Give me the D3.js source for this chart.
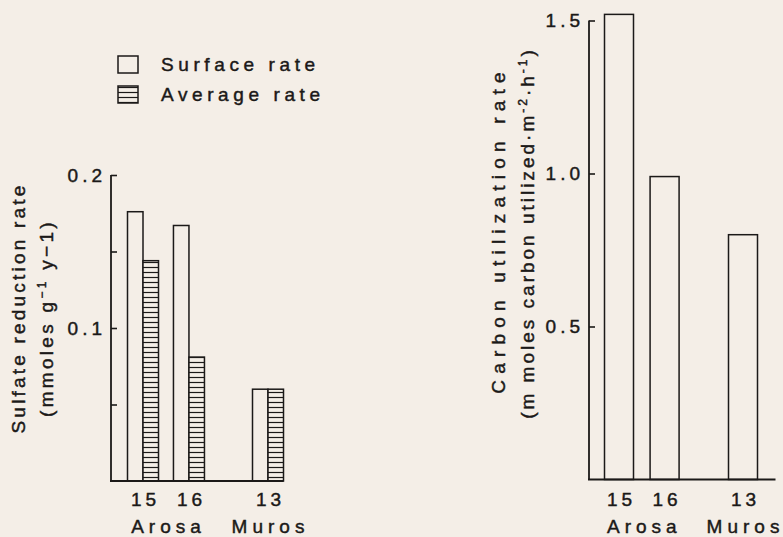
<!DOCTYPE html>
<html>
<head>
<meta charset="utf-8">
<script src="https://cdn.jsdelivr.net/npm/d3@7/dist/d3.min.js"></script>
<style>
  html, body { margin: 0; padding: 0; background: #f4eee7; }
  svg { display: block; }
  text { font-family: "Liberation Sans", Arial, Helvetica, sans-serif; fill: #1b1918; stroke: #1b1918; stroke-width: 0.45px; }
</style>
</head>
<body>
<svg id="chart" width="783" height="537"></svg>
<script>
// Sampling stations and their locations
const stations = ["15", "16", "13"];
const locations = ["Arosa", "Arosa", "Muros"];

// Sulfate reduction rate (mmoles g-1 y-1)
const surfaceRate = [0.176, 0.167, 0.060];
const averageRate = [0.144, 0.081, 0.060];

// Carbon utilization rate (m moles carbon utilized m-2 h-1)
const carbonRate = [1.52, 0.99, 0.80];

// Axis ticks and labels
const sulfateTicks = [0.05, 0.1, 0.15, 0.2];
const sulfateLabels = ["", "0.1", "", "0.2"];
const carbonTicks = [0.5, 1.0, 1.5];
const carbonLabels = ["0.5", "1.0", "1.5"];

const legendItems = ["Surface rate", "Average rate"];

const ink = "#1b1918";
const paper = "#f4eee7";
const FS = 19;
const svg = d3.select("#chart");

// horizontal hatching for the average-rate bars
const defs = svg.append("defs");
const pat = defs.append("pattern")
  .attr("id", "hatch").attr("patternUnits", "userSpaceOnUse")
  .attr("width", 8).attr("height", 5);
pat.append("rect").attr("width", 8).attr("height", 5).attr("fill", paper);
pat.append("line").attr("x1", 0).attr("x2", 8).attr("y1", 2.5).attr("y2", 2.5)
  .attr("stroke", ink).attr("stroke-width", 1.2);

// slot positions: stations sit one unit apart, with extra room between locations
const locGap = 0.72;
const slots = [];
stations.forEach((s, i) => {
  let shift = 0;
  for (let j = 1; j <= i; j++) if (locations[j] !== locations[j - 1]) shift += locGap;
  slots.push(i + shift);
});
const slotMax = slots[slots.length - 1];

function drawPanel(cfg) {
  const g = svg.append("g");
  const x = d3.scaleLinear().domain([0, slotMax]).range(cfg.xRange);
  const y = d3.scaleLinear().domain(cfg.yDomain).range(cfg.yRange);

  // y axis: ticks point into the plot
  const yAxis = d3.axisLeft(y)
    .tickValues(cfg.ticks)
    .tickFormat((d, i) => cfg.labels[i])
    .tickSizeInner(-6).tickSizeOuter(0).tickPadding(9);
  const ya = g.append("g").attr("transform", `translate(${cfg.axisX},0)`).call(yAxis);
  ya.select(".domain").attr("stroke", ink).attr("stroke-width", 1.8)
    .attr("d", `M0,${y(0)}V${y(cfg.yDomain[1])}`);
  ya.selectAll(".tick line").attr("stroke", ink).attr("stroke-width", 1.6);
  ya.selectAll(".tick text")
    .attr("font-size", FS).attr("letter-spacing", 4).attr("dx", 4)
    .attr("font-family", null).attr("fill", null);

  // bars
  const bw = cfg.barWidth;
  cfg.series.forEach(ser => {
    g.selectAll(null).data(ser.values).join("rect")
      .attr("x", (d, i) => x(slots[i]) + ser.offset * bw)
      .attr("y", d => y(d))
      .attr("width", bw)
      .attr("height", d => y(0) - y(d))
      .attr("fill", ser.hatched ? "url(#hatch)" : paper)
      .attr("stroke", ink).attr("stroke-width", 1.5);
  });

  // baseline from the y axis to just past the last bar
  const lastRight = x(slotMax) + cfg.barRightEdge * bw + cfg.baselineExtra;
  g.append("line")
    .attr("x1", cfg.axisX - 1).attr("x2", lastRight)
    .attr("y1", y(0)).attr("y2", y(0))
    .attr("stroke", ink).attr("stroke-width", 1.8);

  // station numbers via a bottom axis without ticks
  const xAxis = d3.axisBottom(x).tickValues(slots)
    .tickFormat((d, i) => stations[i]).tickSize(0).tickPadding(0);
  const xa = g.append("g").attr("transform", `translate(0,${cfg.numY})`).call(xAxis);
  xa.select(".domain").remove();
  xa.selectAll(".tick text")
    .attr("font-size", FS).attr("letter-spacing", 4).attr("dx", 2).attr("dy", 0)
    .attr("font-family", null).attr("fill", null);

  // location names centred under their stations
  const locs = d3.groups(stations.map((s, i) => ({ loc: locations[i], slot: slots[i] })), d => d.loc);
  g.selectAll(null).data(locs).join("text")
    .attr("x", d => x(d3.mean(d[1], e => e.slot)))
    .attr("y", cfg.locY)
    .attr("text-anchor", "middle")
    .attr("font-size", FS).attr("letter-spacing", 5).attr("dx", 2.5)
    .text(d => d[0]);

  // rotated y-axis title, two lines
  cfg.title.forEach(t => {
    const tx = g.append("text")
      .attr("transform", `translate(${t.x},${t.y}) rotate(-90)`)
      .attr("text-anchor", "middle")
      .attr("font-size", FS).attr("letter-spacing", t.ls);
    t.parts.forEach(p => {
      const sp = tx.append("tspan").text(p.text);
      if (p.sup) sp.attr("font-size", 12).attr("baseline-shift", "super");
    });
  });
}

drawPanel({
  axisX: 111,
  xRange: [143, 268],
  yDomain: [0, 0.2], yRange: [481, 175],
  ticks: sulfateTicks, labels: sulfateLabels,
  barWidth: 15.5, barRightEdge: 1, baselineExtra: 0,
  series: [
    { values: surfaceRate, offset: -1, hatched: false },
    { values: averageRate, offset: 0, hatched: true }
  ],
  numY: 506, locY: 533,
  title: [
    { x: 25, y: 308, ls: 3.2, parts: [{ text: "Sulfate reduction rate" }] },
    { x: 53, y: 318, ls: 3.3, parts: [
      { text: "(mmoles g" }, { text: "−1", sup: true }, { text: " y−1)" }
    ] }
  ]
});

drawPanel({
  axisX: 589,
  xRange: [619, 743],
  yDomain: [0, 1.5], yRange: [479.5, 20.5],
  ticks: carbonTicks, labels: carbonLabels,
  barWidth: 29, barRightEdge: 0.5, baselineExtra: 18,
  series: [
    { values: carbonRate, offset: -0.5, hatched: false }
  ],
  numY: 506, locY: 533,
  title: [
    { x: 505, y: 230, ls: 6.2, parts: [{ text: "Carbon utilization rate" }] },
    { x: 534, y: 233, ls: 3, parts: [
      { text: "(m moles carbon utilized·m" }, { text: "-2", sup: true },
      { text: "·h" }, { text: "-1", sup: true }, { text: ")" }
    ] }
  ]
});

// legend
const lg = svg.append("g");
lg.selectAll(null).data(legendItems).join("rect")
  .attr("x", 118).attr("y", (d, i) => 56 + i * 30)
  .attr("width", 20).attr("height", 17)
  .attr("fill", (d, i) => i === 1 ? "url(#hatch)" : paper)
  .attr("stroke", ink).attr("stroke-width", 1.5);
lg.selectAll(null).data(legendItems).join("text")
  .attr("x", 161).attr("y", (d, i) => 71 + i * 29.5)
  .attr("font-size", FS).attr("letter-spacing", 4.6)
  .text(d => d);
</script>
</body>
</html>
